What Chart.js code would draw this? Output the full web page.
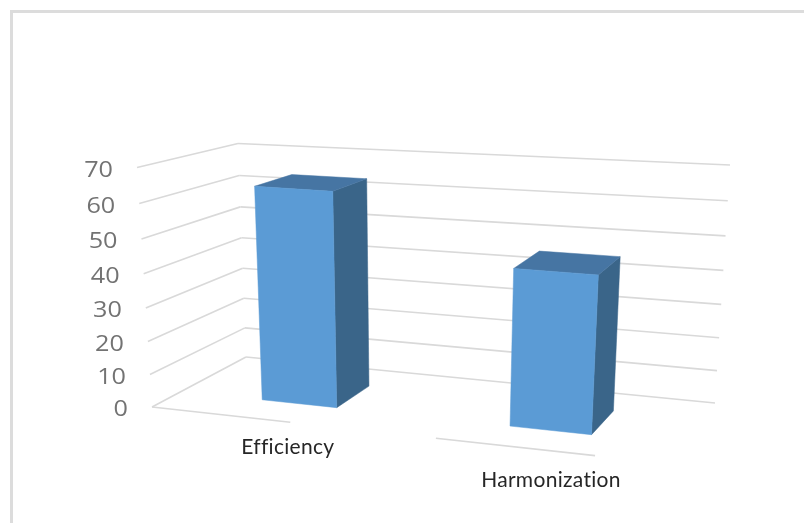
<!DOCTYPE html>
<html>
<head>
<meta charset="utf-8">
<script src="https://cdn.jsdelivr.net/npm/chart.js@4"></script>
<style>
  html, body { margin: 0; padding: 0; background: #fff; }
  #frame { position: absolute; left: 10px; top: 10px; width: 800px; height: 520px; border-top: 3px solid #dcdcdc; border-left: 3px solid #dcdcdc; }
  #wrap { position: absolute; left: 0; top: 0; width: 804px; height: 523px; overflow: hidden; }
  canvas { position: absolute; left: 0; top: 0; }
</style>
</head>
<body>
<div id="wrap">
  <div id="frame"></div>
  <canvas id="grafico" width="804" height="523"></canvas>
</div>
<script>
const categorias = ['Efficiency', 'Harmonization'];
const valores = [64, 46];
const maxEje = 70;
const pasoEje = 10;

// 3D box that the plot sits in: screen position of each corner, keyed u/v/d
const esquinas = {
  '000': [152, 407], '100': [671, 464], '010': [137, 167.5], '110': [688, 205],
  '001': [246, 357], '101': [715, 403], '011': [238, 143.5], '111': [730, 165]
};
const fondoBarra = [0.29, 0.695];       // bar depth inside the box
const tramosBorde = [[0, 0.285], [0.57, 0.865]]; // visible parts of the front floor edge
const despEtiquetas = [[15, 27], [19, 32]];     // category label offset from the floor edge

const colores = {
  grid: '#d9d9d9', ticks: '#737373', labels: '#262626',
  frente: '#5b9bd5', techo: '#4675a3', lado: '#3a6589'
};

// rational trilinear interpolation between the box corners
function proyectar(u, v, d) {
  let x = 0, y = 0, w = 0;
  for (const k in esquinas) {
    const cu = +k[0], cv = +k[1], cd = +k[2];
    const n = (cu ? u : 1 - u) * (cv ? v : 1 - v) * (cd ? d : 1 - d) * (1 - 0.089 * cu - 0.059 * cv + 0.1285 * cd);
    x += n * esquinas[k][0];
    y += n * esquinas[k][1];
    w += n;
  }
  return [x / w, y / w];
}

function linea(ctx, a, b) {
  ctx.beginPath();
  ctx.moveTo(a[0], a[1]);
  ctx.lineTo(b[0], b[1]);
  ctx.stroke();
}

function cara(ctx, puntos, color) {
  ctx.fillStyle = color;
  ctx.strokeStyle = color;
  ctx.lineWidth = 0.5;
  ctx.beginPath();
  puntos.forEach((p, i) => i === 0 ? ctx.moveTo(p[0], p[1]) : ctx.lineTo(p[0], p[1]));
  ctx.closePath();
  ctx.fill();
  ctx.stroke();
}

const perspectiva = {
  id: 'perspectiva',
  beforeDatasetsDraw(chart) {
    const ctx = chart.ctx;
    const area = chart.chartArea;
    const escalaX = chart.scales.x;
    const escalaY = chart.scales.y;
    const aU = px => (px - area.left) / area.width;
    const aV = py => (area.bottom - py) / area.height;

    ctx.save();
    ctx.strokeStyle = colores.grid;
    ctx.lineWidth = 1.6;

    // walls
    escalaY.ticks.forEach(t => {
      const v = aV(escalaY.getPixelForValue(t.value));
      linea(ctx, proyectar(0, v, 0), proyectar(0, v, 1));
      linea(ctx, proyectar(0, v, 1), proyectar(1, v, 1));
    });
    // front edge of the floor
    tramosBorde.forEach(t => linea(ctx, proyectar(t[0], 0, 0), proyectar(t[1], 0, 0)));

    // value axis labels
    ctx.fillStyle = colores.ticks;
    ctx.font = '21px "Open Sans"';
    ctx.textAlign = 'right';
    ctx.textBaseline = 'middle';
    escalaY.ticks.forEach(t => {
      const p = proyectar(0, aV(escalaY.getPixelForValue(t.value)), 0);
      ctx.save();
      ctx.translate(p[0] - 24, p[1] + 3.5);
      ctx.scale(1.2, 1);
      ctx.fillText(t.label, 0, 0);
      ctx.restore();
    });

    // category labels, the letter spacing also stops the ti ligature
    ctx.fillStyle = colores.labels;
    ctx.font = '21px Lato';
    ctx.letterSpacing = '0.3px';
    ctx.textAlign = 'center';
    categorias.forEach((c, i) => {
      const p = proyectar(aU(escalaX.getPixelForTick(i)), 0, 0);
      ctx.fillText(c, p[0] + despEtiquetas[i][0], p[1] + despEtiquetas[i][1]);
    });
    ctx.letterSpacing = '0px';

    // bars
    chart.getDatasetMeta(0).data.forEach(barra => {
      const u0 = aU(barra.x - barra.width / 2);
      const u1 = aU(barra.x + barra.width / 2);
      const v0 = aV(barra.base);
      const v1 = aV(barra.y);
      const d0 = fondoBarra[0];
      const d1 = fondoBarra[1];
      cara(ctx, [proyectar(u1, v0, d0), proyectar(u1, v0, d1), proyectar(u1, v1, d1), proyectar(u1, v1, d0)], colores.lado);
      cara(ctx, [proyectar(u0, v1, d0), proyectar(u0, v1, d1), proyectar(u1, v1, d1), proyectar(u1, v1, d0)], colores.techo);
      cara(ctx, [proyectar(u0, v0, d0), proyectar(u1, v0, d0), proyectar(u1, v1, d0), proyectar(u0, v1, d0)], colores.frente);
    });
    ctx.restore();
    return false;
  }
};

new Chart(document.getElementById('grafico').getContext('2d'), {
  type: 'bar',
  data: {
    labels: categorias,
    datasets: [{
      data: valores,
      backgroundColor: colores.frente,
      categoryPercentage: 1,
      barPercentage: 0.31
    }]
  },
  options: {
    responsive: false,
    animation: false,
    scales: {
      x: { display: false },
      y: { display: false, min: 0, max: maxEje, ticks: { stepSize: pasoEje } }
    },
    plugins: { legend: { display: false }, tooltip: { enabled: false } }
  },
  plugins: [perspectiva]
});
</script>
</body>
</html>
